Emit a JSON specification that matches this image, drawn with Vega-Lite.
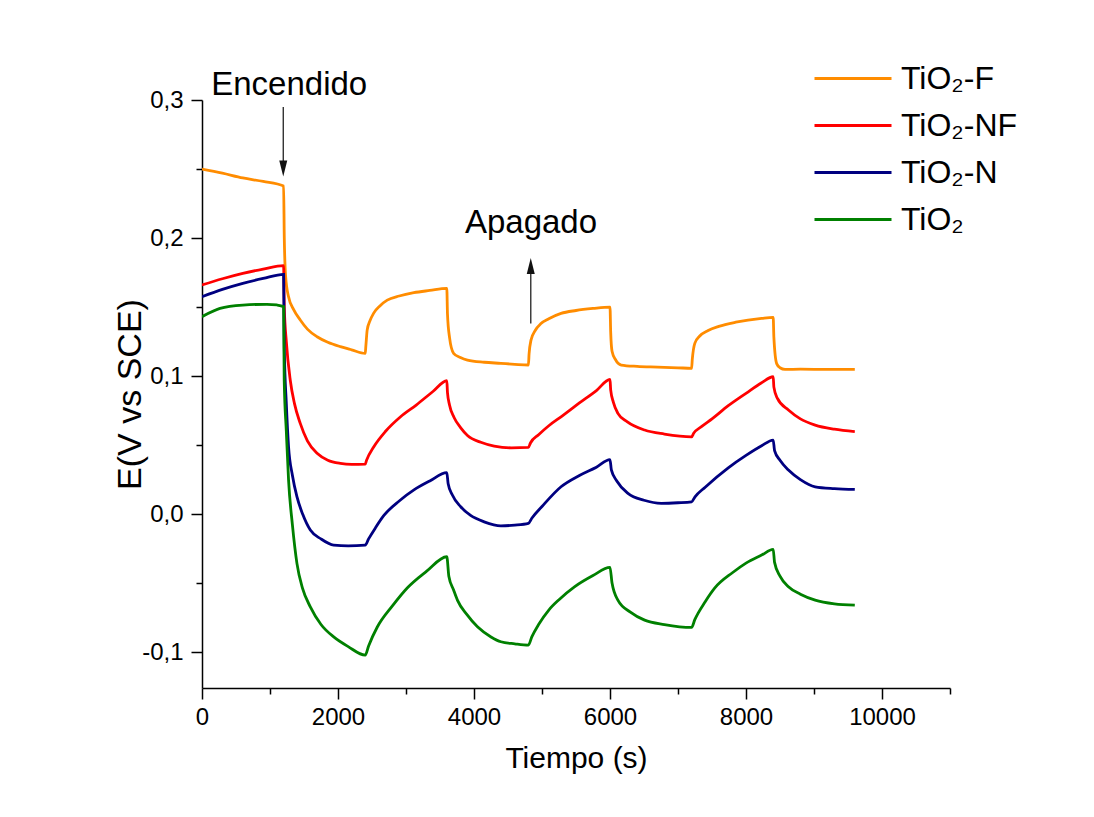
{
  "$schema": "https://vega.github.io/schema/vega-lite/v6.json",
  "autosize": {"type": "none"},
  "width": 748,
  "height": 588,
  "padding": {"left": 202, "top": 100, "right": 144, "bottom": 129},
  "background": "white",
  "config": {
    "view": {"stroke": null},
    "font": "Liberation Sans",
    "axis": {"domainColor": "black", "domainWidth": 1.5, "tickColor": "black", "tickWidth": 1.5, "labelColor": "black", "titleColor": "black", "labelFont": "Liberation Sans", "titleFont": "Liberation Sans", "titleFontWeight": "normal", "grid": false}
  },
  "datasets": {
    "curves": [
      {"s": "TiO₂-F", "t": 0, "v": 0.250}, {"s": "TiO₂-F", "t": 300, "v": 0.247}, {"s": "TiO₂-F", "t": 600, "v": 0.2435}, {"s": "TiO₂-F", "t": 900, "v": 0.241}, {"s": "TiO₂-F", "t": 1200, "v": 0.2377},
      {"s": "TiO₂-F", "t": 1210, "v": 0.200}, {"s": "TiO₂-F", "t": 1230, "v": 0.172}, {"s": "TiO₂-F", "t": 1270, "v": 0.158}, {"s": "TiO₂-F", "t": 1350, "v": 0.148}, {"s": "TiO₂-F", "t": 1445, "v": 0.1406}, {"s": "TiO₂-F", "t": 1550, "v": 0.134}, {"s": "TiO₂-F", "t": 1692, "v": 0.1285}, {"s": "TiO₂-F", "t": 1850, "v": 0.1245}, {"s": "TiO₂-F", "t": 2035, "v": 0.1213}, {"s": "TiO₂-F", "t": 2200, "v": 0.119}, {"s": "TiO₂-F", "t": 2400, "v": 0.1164},
      {"s": "TiO₂-F", "t": 2410, "v": 0.122}, {"s": "TiO₂-F", "t": 2429, "v": 0.1333}, {"s": "TiO₂-F", "t": 2470, "v": 0.140}, {"s": "TiO₂-F", "t": 2525, "v": 0.1456}, {"s": "TiO₂-F", "t": 2620, "v": 0.151}, {"s": "TiO₂-F", "t": 2724, "v": 0.155}, {"s": "TiO₂-F", "t": 2900, "v": 0.158}, {"s": "TiO₂-F", "t": 3115, "v": 0.1604}, {"s": "TiO₂-F", "t": 3350, "v": 0.162}, {"s": "TiO₂-F", "t": 3600, "v": 0.1635},
      {"s": "TiO₂-F", "t": 3610, "v": 0.145}, {"s": "TiO₂-F", "t": 3640, "v": 0.128}, {"s": "TiO₂-F", "t": 3700, "v": 0.1165}, {"s": "TiO₂-F", "t": 3800, "v": 0.1135}, {"s": "TiO₂-F", "t": 3904, "v": 0.1116}, {"s": "TiO₂-F", "t": 4150, "v": 0.110}, {"s": "TiO₂-F", "t": 4395, "v": 0.1092}, {"s": "TiO₂-F", "t": 4600, "v": 0.1085}, {"s": "TiO₂-F", "t": 4800, "v": 0.108},
      {"s": "TiO₂-F", "t": 4810, "v": 0.116}, {"s": "TiO₂-F", "t": 4838, "v": 0.126}, {"s": "TiO₂-F", "t": 4900, "v": 0.133}, {"s": "TiO₂-F", "t": 4985, "v": 0.138}, {"s": "TiO₂-F", "t": 5100, "v": 0.1415}, {"s": "TiO₂-F", "t": 5280, "v": 0.1454}, {"s": "TiO₂-F", "t": 5500, "v": 0.1475}, {"s": "TiO₂-F", "t": 5750, "v": 0.149}, {"s": "TiO₂-F", "t": 6000, "v": 0.150},
      {"s": "TiO₂-F", "t": 6010, "v": 0.132}, {"s": "TiO₂-F", "t": 6030, "v": 0.118}, {"s": "TiO₂-F", "t": 6080, "v": 0.112}, {"s": "TiO₂-F", "t": 6165, "v": 0.108}, {"s": "TiO₂-F", "t": 6400, "v": 0.107}, {"s": "TiO₂-F", "t": 6700, "v": 0.1065}, {"s": "TiO₂-F", "t": 7000, "v": 0.106}, {"s": "TiO₂-F", "t": 7200, "v": 0.1056},
      {"s": "TiO₂-F", "t": 7210, "v": 0.112}, {"s": "TiO₂-F", "t": 7247, "v": 0.1237}, {"s": "TiO₂-F", "t": 7320, "v": 0.129}, {"s": "TiO₂-F", "t": 7443, "v": 0.133}, {"s": "TiO₂-F", "t": 7600, "v": 0.136}, {"s": "TiO₂-F", "t": 7850, "v": 0.139}, {"s": "TiO₂-F", "t": 8230, "v": 0.1418}, {"s": "TiO₂-F", "t": 8400, "v": 0.1425},
      {"s": "TiO₂-F", "t": 8410, "v": 0.128}, {"s": "TiO₂-F", "t": 8451, "v": 0.109}, {"s": "TiO₂-F", "t": 8500, "v": 0.106}, {"s": "TiO₂-F", "t": 8574, "v": 0.1048}, {"s": "TiO₂-F", "t": 8800, "v": 0.105}, {"s": "TiO₂-F", "t": 9200, "v": 0.1048}, {"s": "TiO₂-F", "t": 9600, "v": 0.1048},

      {"s": "TiO₂-NF", "t": 0, "v": 0.166}, {"s": "TiO₂-NF", "t": 300, "v": 0.1705}, {"s": "TiO₂-NF", "t": 600, "v": 0.1744}, {"s": "TiO₂-NF", "t": 900, "v": 0.1775}, {"s": "TiO₂-NF", "t": 1200, "v": 0.180},
      {"s": "TiO₂-NF", "t": 1210, "v": 0.150}, {"s": "TiO₂-NF", "t": 1240, "v": 0.125}, {"s": "TiO₂-NF", "t": 1298, "v": 0.097}, {"s": "TiO₂-NF", "t": 1360, "v": 0.080}, {"s": "TiO₂-NF", "t": 1445, "v": 0.0657}, {"s": "TiO₂-NF", "t": 1550, "v": 0.053}, {"s": "TiO₂-NF", "t": 1692, "v": 0.044}, {"s": "TiO₂-NF", "t": 1850, "v": 0.039}, {"s": "TiO₂-NF", "t": 2035, "v": 0.0367}, {"s": "TiO₂-NF", "t": 2200, "v": 0.036}, {"s": "TiO₂-NF", "t": 2400, "v": 0.0362},
      {"s": "TiO₂-NF", "t": 2420, "v": 0.039}, {"s": "TiO₂-NF", "t": 2527, "v": 0.0488}, {"s": "TiO₂-NF", "t": 2700, "v": 0.060}, {"s": "TiO₂-NF", "t": 2920, "v": 0.0705}, {"s": "TiO₂-NF", "t": 3150, "v": 0.079}, {"s": "TiO₂-NF", "t": 3400, "v": 0.089}, {"s": "TiO₂-NF", "t": 3600, "v": 0.0966},
      {"s": "TiO₂-NF", "t": 3610, "v": 0.088}, {"s": "TiO₂-NF", "t": 3640, "v": 0.079}, {"s": "TiO₂-NF", "t": 3707, "v": 0.070}, {"s": "TiO₂-NF", "t": 3805, "v": 0.0625}, {"s": "TiO₂-NF", "t": 3904, "v": 0.057}, {"s": "TiO₂-NF", "t": 4100, "v": 0.052}, {"s": "TiO₂-NF", "t": 4297, "v": 0.0493}, {"s": "TiO₂-NF", "t": 4550, "v": 0.048}, {"s": "TiO₂-NF", "t": 4800, "v": 0.0483},
      {"s": "TiO₂-NF", "t": 4830, "v": 0.0515}, {"s": "TiO₂-NF", "t": 4950, "v": 0.0575}, {"s": "TiO₂-NF", "t": 5100, "v": 0.064}, {"s": "TiO₂-NF", "t": 5280, "v": 0.0705}, {"s": "TiO₂-NF", "t": 5550, "v": 0.0805}, {"s": "TiO₂-NF", "t": 5800, "v": 0.0895}, {"s": "TiO₂-NF", "t": 6000, "v": 0.0975},
      {"s": "TiO₂-NF", "t": 6010, "v": 0.090}, {"s": "TiO₂-NF", "t": 6050, "v": 0.081}, {"s": "TiO₂-NF", "t": 6116, "v": 0.073}, {"s": "TiO₂-NF", "t": 6250, "v": 0.067}, {"s": "TiO₂-NF", "t": 6509, "v": 0.0609}, {"s": "TiO₂-NF", "t": 6800, "v": 0.058}, {"s": "TiO₂-NF", "t": 7200, "v": 0.056},
      {"s": "TiO₂-NF", "t": 7230, "v": 0.0585}, {"s": "TiO₂-NF", "t": 7350, "v": 0.0635}, {"s": "TiO₂-NF", "t": 7500, "v": 0.069}, {"s": "TiO₂-NF", "t": 7739, "v": 0.0785}, {"s": "TiO₂-NF", "t": 8000, "v": 0.0875}, {"s": "TiO₂-NF", "t": 8230, "v": 0.0952}, {"s": "TiO₂-NF", "t": 8400, "v": 0.0995},
      {"s": "TiO₂-NF", "t": 8410, "v": 0.092}, {"s": "TiO₂-NF", "t": 8460, "v": 0.084}, {"s": "TiO₂-NF", "t": 8624, "v": 0.0754}, {"s": "TiO₂-NF", "t": 8800, "v": 0.069}, {"s": "TiO₂-NF", "t": 9017, "v": 0.0645}, {"s": "TiO₂-NF", "t": 9300, "v": 0.0615}, {"s": "TiO₂-NF", "t": 9600, "v": 0.0597},

      {"s": "TiO₂-N", "t": 0, "v": 0.1575}, {"s": "TiO₂-N", "t": 300, "v": 0.1628}, {"s": "TiO₂-N", "t": 600, "v": 0.1672}, {"s": "TiO₂-N", "t": 900, "v": 0.1707}, {"s": "TiO₂-N", "t": 1200, "v": 0.1737},
      {"s": "TiO₂-N", "t": 1210, "v": 0.120}, {"s": "TiO₂-N", "t": 1240, "v": 0.080}, {"s": "TiO₂-N", "t": 1273, "v": 0.0488}, {"s": "TiO₂-N", "t": 1330, "v": 0.028}, {"s": "TiO₂-N", "t": 1396, "v": 0.0126}, {"s": "TiO₂-N", "t": 1480, "v": 0.000}, {"s": "TiO₂-N", "t": 1593, "v": -0.0116}, {"s": "TiO₂-N", "t": 1750, "v": -0.018}, {"s": "TiO₂-N", "t": 1937, "v": -0.0225}, {"s": "TiO₂-N", "t": 2150, "v": -0.023}, {"s": "TiO₂-N", "t": 2400, "v": -0.0225},
      {"s": "TiO₂-N", "t": 2450, "v": -0.018}, {"s": "TiO₂-N", "t": 2550, "v": -0.010}, {"s": "TiO₂-N", "t": 2675, "v": -0.001}, {"s": "TiO₂-N", "t": 2900, "v": 0.0095}, {"s": "TiO₂-N", "t": 3117, "v": 0.0175}, {"s": "TiO₂-N", "t": 3350, "v": 0.024}, {"s": "TiO₂-N", "t": 3600, "v": 0.030},
      {"s": "TiO₂-N", "t": 3620, "v": 0.022}, {"s": "TiO₂-N", "t": 3680, "v": 0.014}, {"s": "TiO₂-N", "t": 3805, "v": 0.0053}, {"s": "TiO₂-N", "t": 3950, "v": -0.001}, {"s": "TiO₂-N", "t": 4149, "v": -0.0056}, {"s": "TiO₂-N", "t": 4395, "v": -0.0085}, {"s": "TiO₂-N", "t": 4600, "v": -0.008}, {"s": "TiO₂-N", "t": 4800, "v": -0.0067},
      {"s": "TiO₂-N", "t": 4850, "v": -0.003}, {"s": "TiO₂-N", "t": 5000, "v": 0.0055}, {"s": "TiO₂-N", "t": 5280, "v": 0.0198}, {"s": "TiO₂-N", "t": 5550, "v": 0.028}, {"s": "TiO₂-N", "t": 5800, "v": 0.034}, {"s": "TiO₂-N", "t": 6000, "v": 0.0395},
      {"s": "TiO₂-N", "t": 6020, "v": 0.032}, {"s": "TiO₂-N", "t": 6100, "v": 0.024}, {"s": "TiO₂-N", "t": 6264, "v": 0.015}, {"s": "TiO₂-N", "t": 6500, "v": 0.010}, {"s": "TiO₂-N", "t": 6755, "v": 0.0078}, {"s": "TiO₂-N", "t": 7000, "v": 0.0082}, {"s": "TiO₂-N", "t": 7200, "v": 0.0089},
      {"s": "TiO₂-N", "t": 7250, "v": 0.0125}, {"s": "TiO₂-N", "t": 7400, "v": 0.0195}, {"s": "TiO₂-N", "t": 7739, "v": 0.0335}, {"s": "TiO₂-N", "t": 8000, "v": 0.0425}, {"s": "TiO₂-N", "t": 8230, "v": 0.0495}, {"s": "TiO₂-N", "t": 8400, "v": 0.0536},
      {"s": "TiO₂-N", "t": 8420, "v": 0.046}, {"s": "TiO₂-N", "t": 8500, "v": 0.039}, {"s": "TiO₂-N", "t": 8624, "v": 0.0319}, {"s": "TiO₂-N", "t": 8800, "v": 0.025}, {"s": "TiO₂-N", "t": 9017, "v": 0.0198}, {"s": "TiO₂-N", "t": 9300, "v": 0.0185}, {"s": "TiO₂-N", "t": 9600, "v": 0.0179},

      {"s": "TiO₂", "t": 0, "v": 0.143}, {"s": "TiO₂", "t": 265, "v": 0.149}, {"s": "TiO₂", "t": 600, "v": 0.1514}, {"s": "TiO₂", "t": 954, "v": 0.152}, {"s": "TiO₂", "t": 1100, "v": 0.1515}, {"s": "TiO₂", "t": 1200, "v": 0.1503},
      {"s": "TiO₂", "t": 1209, "v": 0.097}, {"s": "TiO₂", "t": 1240, "v": 0.060}, {"s": "TiO₂", "t": 1273, "v": 0.0246}, {"s": "TiO₂", "t": 1330, "v": -0.008}, {"s": "TiO₂", "t": 1396, "v": -0.0357}, {"s": "TiO₂", "t": 1480, "v": -0.054}, {"s": "TiO₂", "t": 1593, "v": -0.0672}, {"s": "TiO₂", "t": 1750, "v": -0.080}, {"s": "TiO₂", "t": 1937, "v": -0.089}, {"s": "TiO₂", "t": 2150, "v": -0.096}, {"s": "TiO₂", "t": 2400, "v": -0.1022},
      {"s": "TiO₂", "t": 2450, "v": -0.0955}, {"s": "TiO₂", "t": 2576, "v": -0.082}, {"s": "TiO₂", "t": 2800, "v": -0.0665}, {"s": "TiO₂", "t": 3018, "v": -0.0535}, {"s": "TiO₂", "t": 3300, "v": -0.0415}, {"s": "TiO₂", "t": 3600, "v": -0.0309},
      {"s": "TiO₂", "t": 3630, "v": -0.045}, {"s": "TiO₂", "t": 3700, "v": -0.055}, {"s": "TiO₂", "t": 3756, "v": -0.0623}, {"s": "TiO₂", "t": 3900, "v": -0.073}, {"s": "TiO₂", "t": 4051, "v": -0.0817}, {"s": "TiO₂", "t": 4250, "v": -0.089}, {"s": "TiO₂", "t": 4395, "v": -0.0925}, {"s": "TiO₂", "t": 4600, "v": -0.094}, {"s": "TiO₂", "t": 4800, "v": -0.0949},
      {"s": "TiO₂", "t": 4850, "v": -0.089}, {"s": "TiO₂", "t": 4950, "v": -0.080}, {"s": "TiO₂", "t": 5100, "v": -0.0695}, {"s": "TiO₂", "t": 5250, "v": -0.062}, {"s": "TiO₂", "t": 5477, "v": -0.0527}, {"s": "TiO₂", "t": 5750, "v": -0.0445}, {"s": "TiO₂", "t": 6000, "v": -0.0386},
      {"s": "TiO₂", "t": 6030, "v": -0.050}, {"s": "TiO₂", "t": 6116, "v": -0.0623}, {"s": "TiO₂", "t": 6300, "v": -0.071}, {"s": "TiO₂", "t": 6509, "v": -0.0768}, {"s": "TiO₂", "t": 6800, "v": -0.080}, {"s": "TiO₂", "t": 7200, "v": -0.0821},
      {"s": "TiO₂", "t": 7247, "v": -0.0765}, {"s": "TiO₂", "t": 7400, "v": -0.0635}, {"s": "TiO₂", "t": 7542, "v": -0.0535}, {"s": "TiO₂", "t": 7800, "v": -0.0425}, {"s": "TiO₂", "t": 8000, "v": -0.0355}, {"s": "TiO₂", "t": 8230, "v": -0.0297}, {"s": "TiO₂", "t": 8400, "v": -0.0256},
      {"s": "TiO₂", "t": 8420, "v": -0.035}, {"s": "TiO₂", "t": 8500, "v": -0.045}, {"s": "TiO₂", "t": 8624, "v": -0.0527}, {"s": "TiO₂", "t": 8800, "v": -0.058}, {"s": "TiO₂", "t": 9017, "v": -0.0623}, {"s": "TiO₂", "t": 9300, "v": -0.065}, {"s": "TiO₂", "t": 9600, "v": -0.066}
    ],
    "labels": [
      {"label": "Encendido", "t": 1283, "v": 0.311},
      {"label": "Apagado", "t": 4838, "v": 0.211}
    ],
    "arrows": [
      {"t": 1195, "v1": 0.295, "v2": 0.252},
      {"t": 4835, "v1": 0.138, "v2": 0.178}
    ],
    "heads": [
      {"t": 1195, "v": 0.2504, "dir": "down"},
      {"t": 4835, "v": 0.1797, "dir": "up"}
    ]
  },
  "layer": [
    {
      "data": {"name": "curves"},
      "mark": {"type": "line", "strokeWidth": 2.8, "interpolate": "monotone", "clip": true},
      "encoding": {
        "x": {
          "field": "t", "type": "quantitative",
          "scale": {"domain": [0, 11000], "nice": false, "zero": false},
          "axis": {
            "title": "Tiempo (s)", "titleFontSize": 30, "titlePadding": 14,
            "values": [0, 1000, 2000, 3000, 4000, 5000, 6000, 7000, 8000, 9000, 10000, 11000],
            "labelExpr": "datum.value % 2000 === 0 && datum.value <= 10000 ? format(datum.value, 'd') : ''",
            "labelFontSize": 24, "labelPadding": 6, "labelFlush": false, "labelOverlap": false,
            "tickSize": {"condition": {"test": "datum.value % 2000 !== 0", "value": 6}, "value": 11}
          }
        },
        "y": {
          "field": "v", "type": "quantitative",
          "scale": {"domain": [-0.126, 0.3], "nice": false, "zero": false},
          "axis": {
            "title": "E(V vs SCE)", "titleFontSize": 34, "titleX": -55,
            "values": [-0.1, -0.05, 0, 0.05, 0.1, 0.15, 0.2, 0.25, 0.3],
            "labelExpr": "abs(datum.value * 10 - round(datum.value * 10)) < 0.001 ? replace(replace(format(datum.value, '.1f'), '.', ','), '−', '-') : ''",
            "labelFontSize": 24, "labelPadding": 8, "labelFlush": false, "labelOverlap": false,
            "tickSize": {"condition": {"test": "abs(datum.value * 10 - round(datum.value * 10)) > 0.001", "value": 6}, "value": 11}
          }
        },
        "color": {
          "field": "s", "type": "nominal",
          "scale": {"domain": ["TiO₂-F", "TiO₂-NF", "TiO₂-N", "TiO₂"], "range": ["#FF8C00", "#FF0000", "#000080", "#008000"]},
          "legend": {
            "title": null, "orient": "none", "legendX": 611, "legendY": -45,
            "symbolType": "stroke", "symbolSize": 5929, "symbolStrokeWidth": 2.8,
            "labelFontSize": 32, "labelFont": "Liberation Sans", "labelColor": "black",
            "labelOffset": 8, "rowPadding": 0, "clipHeight": 47, "labelLimit": 300
          }
        }
      }
    },
    {
      "data": {"name": "labels"},
      "mark": {"type": "text", "fontSize": 33, "font": "Liberation Sans", "color": "black", "baseline": "middle", "align": "center"},
      "encoding": {
        "x": {"field": "t", "type": "quantitative"},
        "y": {"field": "v", "type": "quantitative"},
        "text": {"field": "label"}
      }
    },
    {
      "data": {"name": "arrows"},
      "mark": {"type": "rule", "color": "#222", "strokeWidth": 1.3},
      "encoding": {
        "x": {"field": "t", "type": "quantitative"},
        "y": {"field": "v1", "type": "quantitative"},
        "y2": {"field": "v2"}
      }
    },
    {
      "data": {"name": "heads"},
      "mark": {"type": "point", "filled": true, "color": "#111", "size": 256, "opacity": 1, "strokeWidth": 0},
      "encoding": {
        "x": {"field": "t", "type": "quantitative"},
        "y": {"field": "v", "type": "quantitative"},
        "shape": {
          "field": "dir", "type": "nominal", "legend": null,
          "scale": {"domain": ["down", "up"], "range": ["M-0.5,-1L0.5,-1L0,1Z", "M-0.5,1L0.5,1L0,-1Z"]}
        }
      }
    }
  ]
}
